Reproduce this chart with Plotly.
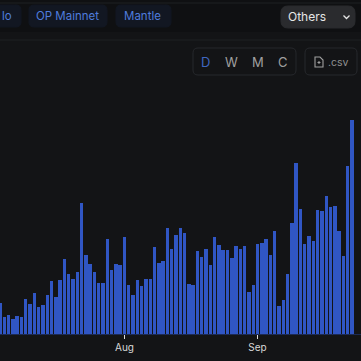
import plotly.graph_objects as go
import pandas as pd

start_date = "2024-07-03"
values = [30.7,17.3,18.7,14.7,18,16.7,35,29.7,40.7,26.7,28.7,39,52.7,36.7,54,74.7,60,55,62,131.3,79.3,69.7,62,50.7,50.7,95.3,63.7,70,68.7,
          96.7,48.7,39,53.7,48,55.3,54.7,87.3,71,73,106.3,85.3,99.3,105.7,100.7,50,49,82.7,76.7,85.3,68.7,97.3,89,84,83.7,75.7,87.7,84.7,
          88.3,42.3,49,89.7,90.7,95,78.7,103.3,28.3,34,60,110.7,170.7,125,90,97.7,93,124,122.7,138,127.3,128,103.3,78,168,214]
dates = pd.date_range(start_date, periods=len(values), freq="D")
tick_vals = ["2024-08-01", "2024-09-01"]
tick_text = ["Aug", "Sep"]
tabs = [("lo", 7), ("OP Mainnet", 67), ("Mantle", 142)]
font = "Inter"

fig = go.Figure(go.Bar(x=dates, y=values, marker=dict(color="#3056c4", line=dict(width=0)), width=86400000*0.8))

shapes = [
    dict(type="rect", xref="paper", yref="paper", x0=0, x1=1, y0=1-32/361, y1=1, fillcolor="#0f1012", line_width=0, layer="below"),
    dict(type="line", xref="paper", yref="paper", x0=0, x1=1, y0=1-3/361, y1=1-3/361, line=dict(color="#1e2023", width=1), layer="below"),
    dict(type="line", xref="paper", yref="paper", x0=0, x1=1, y0=1-40/361, y1=1-40/361, line=dict(color="#1e2023", width=1), layer="below"),
]
def P(x, y):
    return f"{x/361:.5f},{1-y/361:.5f}"

def box(x0, x1, y0, y1, fill, line, r=5):
    path = (f"M{P(x0+r,y0)} L{P(x1-r,y0)} Q{P(x1,y0)} {P(x1,y0+r)} L{P(x1,y1-r)} Q{P(x1,y1)} {P(x1-r,y1)} "
            f"L{P(x0+r,y1)} Q{P(x0,y1)} {P(x0,y1-r)} L{P(x0,y0+r)} Q{P(x0,y0)} {P(x0+r,y0)} Z")
    shapes.append(dict(type="path", xref="paper", yref="paper", path=path, fillcolor=fill, line=dict(color=line, width=1), layer="below"))

box(-8, 21, 5, 27, "#121722", "#121722")
box(29, 107, 5, 27, "#121722", "#121722")
box(116, 171, 5, 27, "#121722", "#121722")
box(281, 355, 6, 28, "#2a2b2e", "#2a2b2e", 7)
box(193, 296, 48, 75, "#131416", "#26282c")
box(305, 357, 48, 75, "#131416", "#26282c")

# chevron and file icon, drawn as small outlines
shapes.append(dict(type="path", xref="paper", yref="paper", path=f"M{P(343.5,15.5)} L{P(346.5,18.5)} L{P(349.5,15.5)}",
                   line=dict(color="#e6e6e6", width=1.3)))
shapes.append(dict(type="path", xref="paper", yref="paper",
                   path=f"M{P(315,57)} L{P(320,57)} L{P(323,60)} L{P(323,67)} L{P(315,67)} Z",
                   line=dict(color="#a0a0a0", width=1.1)))
shapes.append(dict(type="path", xref="paper", yref="paper",
                   path=f"M{P(317.5,62.5)} L{P(320.5,62.5)} M{P(319,61)} L{P(319,64)}",
                   line=dict(color="#a0a0a0", width=1)))

ann = []
def text(x, y, s, color, size, anchor="center"):
    ann.append(dict(xref="paper", yref="paper", x=x/361, y=1-y/361, text=s, showarrow=False, xanchor=anchor, yanchor="middle",
                    font=dict(family=font, size=size, color=color)))
for s, x in tabs:
    text(x, 16, s, "#4f7cdc", 11.5)
text(307, 16, "Others", "#e6e6e6", 12)
for s, x, c in [("D", 205, "#3f67c0"), ("W", 231, "#a0a0a0"), ("M", 258, "#a0a0a0"), ("C", 283, "#a0a0a0")]:
    text(x, 62, s, c, 13)
text(338, 62, ".csv", "#909090", 10.5)

fig.update_layout(
    width=361, height=361, margin=dict(l=0, r=0, t=0, b=0), autosize=False,
    paper_bgcolor="#131416", plot_bgcolor="#131416", showlegend=False, bargap=0,
    shapes=shapes, annotations=ann,
    xaxis=dict(type="date", range=[pd.Timestamp(start_date), pd.Timestamp(start_date)+pd.Timedelta(days=84.1)],
               tickvals=tick_vals, ticktext=tick_text, ticks="outside", ticklen=4, tickcolor="#dddddd", tickwidth=1,
               tickfont=dict(family=font, size=10, color="#d8d8d8"), showgrid=False, zeroline=False,
               showline=True, linecolor="#1c2b55", linewidth=1, domain=[0,1], anchor="y"),
    yaxis=dict(range=[0, 214], domain=[1-334/361, 1-120/361], showgrid=False, zeroline=False, showticklabels=False, ticks=""),
)
fig.write_html("out.html", config=dict(displayModeBar=False),
               post_script="document.body.style.margin='0';document.documentElement.style.background='#131416';")
